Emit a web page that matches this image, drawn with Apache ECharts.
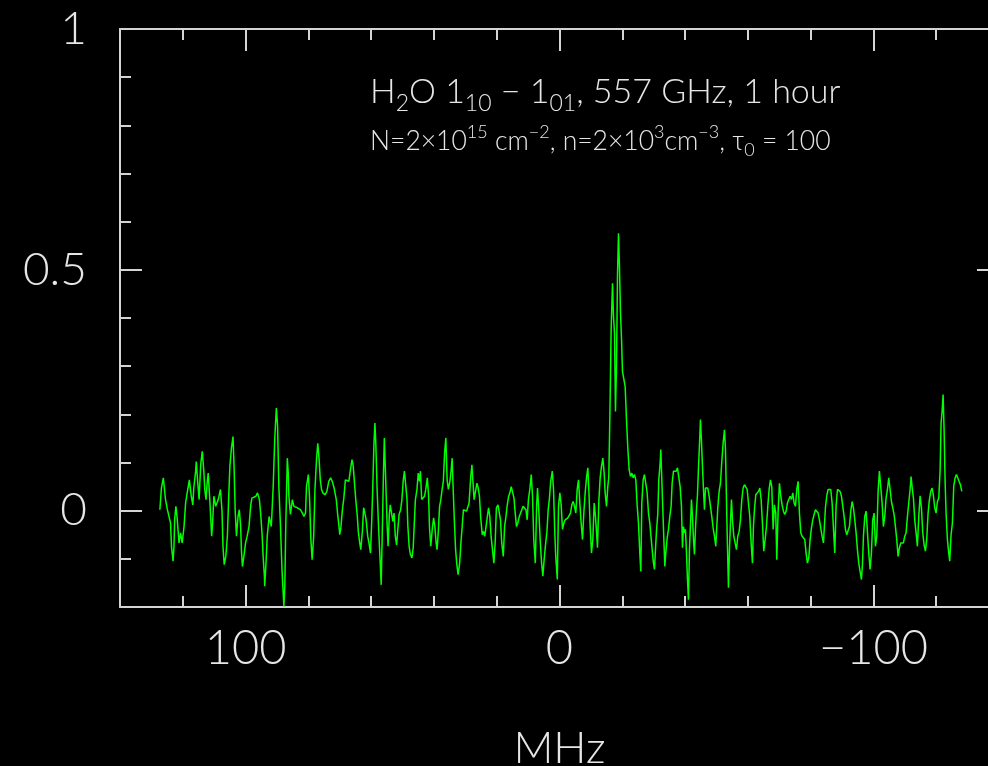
<!DOCTYPE html>
<html>
<head>
<meta charset="utf-8">
<title>H2O 1_10 - 1_01 spectrum</title>
<script src="https://cdn.jsdelivr.net/npm/echarts@6/dist/echarts.min.js"></script>
<style>
html, body { margin: 0; padding: 0; background: #000; }
#chart { width: 988px; height: 766px; }
</style>
</head>
<body>
<div id="chart"></div>
<script>
// [frequency offset in MHz, line intensity]
const spectrum = [
  [127.3,0.002],[126.8,0.047],[126.2,0.068],[125.5,0.023],[124.9,0.002],[124.4,-0.012],[123.9,-0.026],[123.6,-0.074],[123.1,-0.105],[122.8,-0.074],
  [122.6,-0.019],[122.2,0.009],[121.8,-0.015],[121.2,-0.067],[120.7,-0.046],[120.2,-0.067],[119.6,-0.033],[119.1,0.016],[118.6,0.037],[117.9,0.064],
  [117.3,0.030],[116.8,0.012],[116.5,0.047],[115.9,0.082],[115.7,0.102],[115.3,0.064],[114.8,0.023],[114.3,0.095],[113.8,0.123],[113.3,0.082],
  [113.0,0.044],[112.6,0.023],[112.2,0.061],[111.9,0.078],[111.4,0.023],[110.8,-0.053],[110.5,-0.026],[110.1,0.030],[109.5,0.009],[108.7,0.023],
  [108.0,0.044],[107.5,-0.001],[107.2,-0.074],[106.8,-0.112],[106.3,-0.095],[105.8,-0.053],[105.4,0.023],[105.0,0.092],[104.5,0.130],[104.0,0.154],
  [103.7,0.099],[103.3,-0.001],[102.9,-0.053],[102.4,-0.012],[102.0,0.002],[101.6,-0.029],[101.3,-0.084],[101.0,-0.116],[100.4,-0.088],[100.0,-0.067],
  [99.5,-0.053],[98.9,-0.033],[98.4,0.009],[98.0,0.026],[97.4,0.023],[96.7,0.030],[96.2,0.037],[95.6,0.023],[95.2,-0.005],[94.7,-0.053],
  [94.4,-0.095],[94.0,-0.136],[93.9,-0.157],[93.5,-0.109],[93.1,-0.053],[92.5,-0.012],[91.8,-0.033],[91.2,0.050],[90.7,0.151],[90.2,0.213],
  [89.8,0.175],[89.4,0.050],[88.9,-0.029],[88.4,-0.122],[87.8,-0.199],[87.5,-0.157],[87.2,-0.033],
  [86.7,0.109],[86.4,0.078],[86.2,0.030],[85.7,-0.008],[85.1,0.023],[84.6,0.009],[84.1,0.012],[83.5,0.006],[83.0,0.009],[82.5,0.002],
  [81.9,-0.005],[81.4,-0.012],[80.9,-0.005],[80.6,0.050],[80.0,0.075],[79.6,0.023],[79.2,-0.060],[78.8,-0.102],[78.3,-0.053],[77.9,0.044],
  [77.4,0.106],[77.0,0.140],[76.6,0.109],[76.2,0.064],[75.8,0.044],[75.4,0.037],[74.7,0.033],[74.1,0.040],[73.5,0.061],[72.9,0.068],
  [72.4,0.061],[71.8,0.047],[71.1,0.023],[70.6,-0.012],[70.3,-0.029],[70.0,-0.050],[69.6,-0.033],[69.2,-0.001],[68.7,0.026],[68.2,0.064],
  [67.6,0.068],[67.1,0.061],[66.6,0.085],[66.1,0.106],[65.7,0.092],[65.3,0.057],[64.9,0.023],[64.4,-0.012],[64.1,-0.043],[63.7,-0.064],
  [63.3,-0.081],[62.8,-0.043],[62.4,0.006],[62.0,-0.005],[61.6,-0.019],[61.1,-0.053],[60.7,-0.067],[60.2,-0.088],[59.8,-0.019],[59.5,0.044],
  [59.1,0.140],[58.8,0.182],[58.5,0.137],[58.1,0.044],[57.6,-0.039],[57.2,-0.095],[56.8,-0.154],[56.5,-0.060],[56.1,0.071],[55.8,0.151],
  [55.5,0.092],[55.2,0.030],[54.9,-0.033],[54.6,-0.074],[54.2,-0.008],[53.9,0.012],[53.5,-0.005],[53.1,-0.022],[52.7,-0.005],[52.3,-0.053],
  [51.9,-0.071],[51.5,-0.039],[51.1,-0.008],[50.6,0.002],[50.2,0.023],[49.8,0.061],[49.4,0.082],[48.9,0.085],[48.6,0.026],[48.3,-0.033],
  [47.9,-0.074],[47.5,-0.091],[47.0,-0.098],[46.6,-0.077],[46.3,-0.033],[45.9,0.023],[45.4,0.044],[45.0,0.078],[44.6,0.061],
  [44.3,0.082],[43.9,0.023],[43.4,0.019],[43.0,0.030],[42.6,0.044],[42.1,0.068],[41.7,0.030],[41.4,-0.036],[41.0,-0.074],[40.5,-0.036],
  [40.1,-0.015],[39.7,-0.033],[39.3,-0.067],[39.0,-0.081],[38.6,-0.043],[38.2,0.009],[37.8,0.023],[37.4,0.044],[37.0,0.061],[36.6,0.120],
  [36.2,0.151],[35.8,0.064],[35.4,0.044],[34.9,0.061],[34.5,0.085],[34.2,0.109],[33.9,0.050],[33.5,-0.019],[33.1,-0.081],[32.7,-0.112],
  [32.3,-0.133],[31.8,-0.109],[31.4,-0.067],[31.0,-0.033],[30.6,0.002],[30.2,0.006],[29.6,-0.001],[29.2,-0.005],[28.8,0.016],[28.3,0.068],
  [27.9,0.095],[27.6,0.064],[27.2,0.023],[26.8,0.019],[26.3,0.057],[25.9,0.047],[25.5,0.030],[25.1,-0.015],[24.6,-0.050],[24.2,-0.043],
  [23.8,-0.053],[23.4,-0.033],[22.9,-0.008],[22.6,0.006],[22.2,-0.012],[21.8,-0.053],[21.3,-0.084],[20.9,-0.109],[20.5,-0.067],[20.1,0.006],
  [19.6,0.012],[19.2,0.009],[18.8,-0.019],[18.4,-0.067],[17.9,-0.095],[17.5,-0.033],[17.1,-0.015],[16.7,0.009],[16.2,0.030],[15.8,0.037],
  [15.4,0.050],[15.0,0.040],[14.5,0.026],[14.1,-0.005],[13.7,-0.033],[13.3,-0.026],[12.8,-0.012],[12.4,-0.005],[12.0,0.002],[11.6,0.009],
  [11.1,0.012],[10.7,0.002],[10.3,-0.019],[9.9,0.023],[9.4,0.047],[9.0,0.075],[8.6,0.030],[8.2,-0.060],[7.7,-0.109],[7.3,0.009],
  [7.0,0.047],[6.6,0.002],[6.1,-0.067],[5.7,-0.109],[5.3,-0.136],[4.9,-0.102],[4.5,-0.074],[4.0,-0.043],[3.6,0.002],[3.2,0.026],
  [2.8,0.061],[2.3,0.082],[1.9,0.044],[1.5,-0.046],[1.2,-0.095],[0.7,-0.143],
  [0.32,0.009],[-0.11,0.037],[-0.53,0.012],[-0.96,-0.039],[-1.38,-0.026],[-1.80,-0.019],[-2.23,-0.022],[-2.65,-0.015],[-3.08,-0.012],[-3.50,-0.005],
  [-3.93,0.012],[-4.35,0.019],[-4.78,0.009],[-5.20,-0.005],[-5.63,0.044],[-6.05,0.064],[-6.48,0.016],[-6.90,-0.026],[-7.32,-0.060],[-7.75,-0.005],
  [-8.17,0.037],[-8.60,0.068],[-9.02,0.089],[-9.34,0.044],[-9.77,-0.033],[-10.19,-0.088],[-10.62,-0.060],[-11.04,0.016],[-11.46,-0.012],[-11.78,-0.043],
  [-12.10,-0.077],[-12.53,0.019],[-12.95,0.068],[-13.38,0.092],[-13.80,0.109],[-14.23,0.078],[-14.54,0.037],[-14.97,0.009],[-15.39,0.050],[-15.71,0.071],
  [-16.03,0.189],[-16.45,0.376],[-16.88,0.472],[-17.20,0.403],[-17.52,0.369],[-17.83,0.206],[-18.15,0.299],[-18.47,0.486],[-18.79,0.576],[-19.11,0.504],
  [-19.43,0.410],[-19.75,0.358],[-20.06,0.289],[-20.49,0.286],[-20.91,0.258],[-21.34,0.189],[-21.76,0.130],[-22.19,0.085],[-22.61,0.071],[-23.04,0.078],
  [-23.46,0.068],[-23.89,0.075],[-24.31,0.064],[-24.73,0.012],[-25.16,-0.026],[-25.58,-0.088],[-25.90,-0.126],[-26.22,0.016],[-26.65,0.064],[-27.07,0.075],
  [-27.49,0.071],[-27.92,0.037],[-28.34,-0.005],[-28.77,-0.026],[-29.19,-0.057],[-29.62,-0.088],[-29.94,-0.109],[-30.25,-0.122],[-30.57,-0.081],[-30.89,-0.043],
  [-31.32,-0.005],[-31.63,0.064],[-32.06,0.099],[-32.27,0.127],[-32.59,0.064],[-32.91,0.002],[-33.23,-0.057],[-33.55,-0.116],[-33.86,-0.088],[-34.29,-0.057],
  [-34.71,-0.039],[-35.14,-0.012],[-35.56,0.009],[-35.88,0.057],[-36.31,0.082],[-36.73,0.085],[-37.16,0.082],[-37.58,0.089],[-38.00,0.092],[-38.43,0.050],
  [-38.85,0.009],[-39.17,-0.077],[-39.49,-0.033],[-39.81,-0.046],[-40.13,-0.039],[-40.45,-0.088],[-40.76,-0.143],[-41.08,-0.185],[-41.40,-0.081],
  [-42.04,0.023],[-42.36,-0.012],[-42.68,-0.060],[-42.99,-0.091],[-43.31,-0.039],[-43.63,0.002],[-43.95,0.033],[-44.27,0.089],[-44.59,0.137],[-44.90,0.189],
  [-45.22,0.144],[-45.54,0.092],[-45.86,0.044],[-46.18,0.002],[-46.50,0.047],[-46.82,0.044],[-47.24,0.047],[-47.66,0.030],[-48.09,0.009],[-48.51,-0.012],
  [-48.94,-0.036],[-49.36,-0.053],[-49.79,-0.074],[-50.11,-0.033],[-50.42,0.006],[-50.85,0.040],[-51.27,0.057],[-51.70,0.102],[-52.12,0.140],[-52.55,0.168],
  [-52.87,0.127],[-53.18,0.023],[-53.50,-0.074],[-53.82,-0.160],[-54.14,-0.081],[-54.46,-0.026],[-54.78,0.023],[-55.10,-0.019],[-55.52,-0.053],[-55.94,-0.067],
  [-56.37,-0.081],[-56.79,-0.053],[-57.22,-0.043],[-57.64,-0.019],[-58.07,0.023],[-58.49,0.047],[-58.92,0.054],[-59.34,0.057],[-59.77,0.044],[-60.19,0.016],
  [-60.62,-0.012],[-61.04,-0.067],[-61.46,-0.109],[-61.78,-0.033],[-62.10,0.002],[-62.53,0.033],[-62.95,0.037],[-63.38,0.040],[-63.80,0.047],[-64.23,0.023],
  [-64.65,-0.026],[-65.07,-0.084],[-65.50,-0.060],[-65.92,-0.033],[-66.35,0.009],[-66.77,0.044],[-67.20,0.064],[-67.62,0.050],[-68.05,-0.039],[-68.47,0.012],
  [-68.89,-0.005],[-69.21,-0.102],[-69.64,-0.001],[-70.06,0.057],[-70.49,0.030],[-70.91,0.012],[-71.34,-0.001],[-71.76,-0.008],[-72.19,-0.001],[-72.61,0.016],
  [-73.04,0.023],[-73.46,0.030],[-73.89,0.023],[-74.31,0.037],[-74.74,0.016],[-75.16,0.009],[-75.58,0.044],[-76.01,0.061],[-76.43,-0.005],[-76.86,-0.046],
  [-77.28,-0.053],[-77.71,-0.050],[-78.13,-0.060],[-78.56,-0.088],[-78.98,-0.109],[-79.41,-0.098],[-79.83,-0.060],[-80.25,-0.036],[-80.68,-0.019],[-81.10,-0.008],
  [-81.53,0.002],[-81.95,-0.001],[-82.38,-0.005],[-82.80,-0.019],[-83.23,-0.036],[-83.65,-0.053],[-84.08,-0.067],
  [-84.71,0.006],[-85.14,0.031],[-85.56,0.044],[-85.99,0.047],[-86.41,0.044],[-86.84,0.016],[-87.26,0.012],[-87.69,-0.088],[-88.11,0.009],[-88.54,0.044],
  [-88.96,0.047],[-89.38,0.040],[-89.81,0.030],[-90.23,0.026],[-90.66,-0.012],[-91.08,-0.039],[-91.51,-0.050],[-91.93,-0.053],[-92.36,-0.033],[-92.78,-0.001],
  [-93.21,0.019],[-93.63,0.006],[-94.06,-0.019],[-94.48,-0.046],[-94.90,-0.081],[-95.33,-0.109],[-95.75,-0.126],[-96.18,-0.143],[-96.50,-0.112],[-96.82,-0.053],
  [-97.24,-0.012],[-97.67,-0.001],[-98.09,0.002],[-98.51,-0.088],[-98.94,-0.122],[-99.36,-0.088],[-99.79,-0.019],[-100.21,-0.005],[-100.64,-0.074],[-101.06,-0.053],
  [-101.49,0.040],[-101.91,0.082],[-102.33,0.050],[-102.76,0.016],[-103.18,-0.033],[-103.61,-0.012],[-104.03,0.026],[-104.46,0.044],[-104.88,0.068],[-105.31,0.044],
  [-105.73,0.019],[-106.16,0.006],[-106.58,-0.008],[-107.01,-0.033],[-107.43,-0.060],[-107.86,-0.095],[-108.28,-0.077],[-108.70,-0.067],[-109.13,-0.071],[-109.55,-0.067],
  [-109.98,-0.053],[-110.40,-0.046],[-110.83,-0.012],[-111.25,0.016],[-111.68,0.044],[-112.00,0.071],[-112.31,0.050],[-112.74,0.026],[-113.16,-0.019],[-113.59,-0.046],
  [-114.01,-0.074],[-114.44,-0.012],[-114.86,0.031],[-115.29,0.006],[-115.71,-0.046],[-116.14,-0.071],[-116.56,-0.084],[-116.98,-0.060],[-117.41,-0.005],[-117.83,0.023],
  [-118.26,0.040],[-118.68,0.047],[-119.11,0.031],[-119.53,0.006],[-119.96,-0.005],[-120.38,0.019],[-120.81,0.026],[-121.23,0.082],[-121.55,0.182],[-121.87,0.206],
  [-122.19,0.241],[-122.51,0.168],[-122.82,0.064],[-123.14,-0.005],[-123.57,-0.060],[-123.99,-0.088],[-124.31,-0.105],[-124.73,-0.050],[-125.16,-0.026],[-125.58,0.050],
  [-126.01,0.068],[-126.43,0.075],[-126.86,0.071],[-127.28,0.061],[-127.71,0.054],[-128.13,0.040]
];

const xMajorTicks = [100, 0, -100];
const yMajorTicks = [0, 0.5, 1];

const frameColor = '#d4d4d4';
const textColor = '#e6e6e6';
const labelFont = 'Lato';

function frameLine(show) {
  return { show: show, onZero: false, lineStyle: { color: frameColor, width: 2 } };
}
function ticks(len, values) {
  let t = { show: true, inside: true, length: len, lineStyle: { color: frameColor, width: 2 } };
  if (values) t.customValues = values;
  return t;
}
function minusSign(v) {
  return v < 0 ? '\u2212' + Math.abs(v) : String(v);
}

// minor and major ticks are separate overlaid axes, as in the original frame
function xAxisOf(pos, major) {
  let ax = {
    type: 'value', position: pos, inverse: true,
    min: -140, max: 140, interval: 20,
    axisLine: frameLine(!major),
    axisTick: major ? ticks(22, xMajorTicks) : ticks(11),
    axisLabel: { show: false },
    splitLine: { show: false }
  };
  if (major && pos === 'bottom') {
    ax.axisLabel = {
      show: true, customValues: xMajorTicks, formatter: minusSign,
      color: textColor, fontFamily: labelFont, fontWeight: 300, fontSize: 47, margin: 18
    };
    ax.name = 'MHz';
    ax.nameLocation = 'middle';
    ax.nameGap = 120;
    ax.nameTextStyle = { color: textColor, fontFamily: labelFont, fontWeight: 300, fontSize: 44 };
  }
  return ax;
}
function yAxisOf(pos, major) {
  let ax = {
    type: 'value', position: pos,
    min: -0.2, max: 1, interval: 0.1,
    axisLine: frameLine(!major),
    axisTick: major ? ticks(22, yMajorTicks) : ticks(11),
    axisLabel: { show: false },
    splitLine: { show: false }
  };
  if (major && pos === 'left') {
    ax.axisLabel = {
      show: true, customValues: yMajorTicks, formatter: v => String(v),
      color: textColor, fontFamily: labelFont, fontWeight: 300, fontSize: 46, margin: 33
    };
  }
  return ax;
}

const big = { fontSize: 34, lineHeight: 46, fontFamily: labelFont, fontWeight: 300, fill: textColor };
const sub1 = { fontSize: 23, lineHeight: 18, verticalAlign: 'bottom', fontFamily: labelFont, fontWeight: 300, fill: textColor };
const small = { fontSize: 26.5, lineHeight: 36, fontFamily: labelFont, fontWeight: 300, fill: textColor };
const sup2 = { fontSize: 18, lineHeight: 18, verticalAlign: 'top', fontFamily: labelFont, fontWeight: 300, fill: textColor };
const sub2 = { fontSize: 18, lineHeight: 18, verticalAlign: 'bottom', fontFamily: labelFont, fontWeight: 300, fill: textColor };

let chart = echarts.init(document.getElementById('chart'));
chart.setOption({
  backgroundColor: '#000',
  animation: false,
  grid: { left: 120, top: 29, right: -11, bottom: 159, outerBoundsMode: 'none', containLabel: false },
  xAxis: [xAxisOf('bottom', false), xAxisOf('bottom', true), xAxisOf('top', false), xAxisOf('top', true)],
  yAxis: [yAxisOf('left', false), yAxisOf('left', true), yAxisOf('right', false), yAxisOf('right', true)],
  graphic: [
    {
      type: 'text', left: 370, top: 75,
      style: {
        text: '{a|H}{s|2}{a|O 1}{s|10}{a| \u2212 1}{s|01}{a|, 557 GHz, 1 hour}',
        rich: { a: big, s: sub1 }
      }
    },
    {
      type: 'text', left: 370, top: 123,
      style: {
        text: '{b|N=2\u00d710}{p|15}{b| cm}{p|\u22122}{b|, n=2\u00d710}{p|3}{b|cm}{p|\u22123}{b|, \u03c4}{q|0}{b| = 100}',
        rich: { b: small, p: sup2, q: sub2 }
      }
    }
  ],
  series: [{
    type: 'line',
    xAxisIndex: 0,
    yAxisIndex: 0,
    data: spectrum,
    showSymbol: false,
    symbol: 'none',
    clip: true,
    lineStyle: { color: '#00ff00', width: 1.5 }
  }]
});
</script>
</body>
</html>
